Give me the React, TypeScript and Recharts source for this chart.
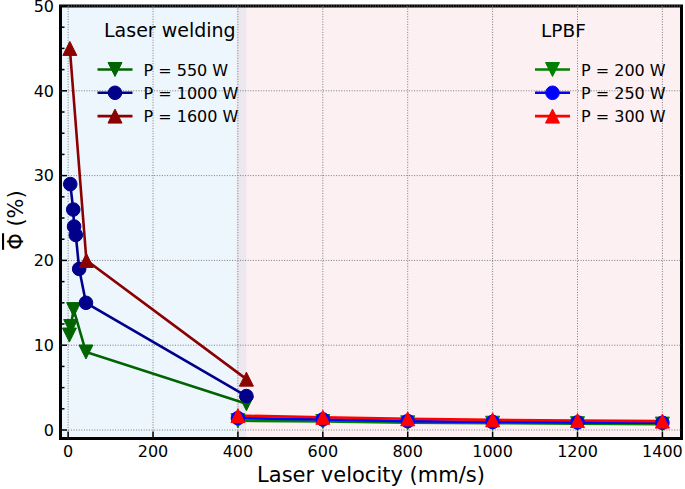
import React from 'react';
import { ComposedChart, Line, XAxis, YAxis, ReferenceLine, ReferenceArea } from 'recharts';

// ---- axes ----
const xDomain: [number, number] = [-18, 1445];
const yDomain: [number, number] = [-1, 50];
const xTicks = [0, 200, 400, 600, 800, 1000, 1200, 1400];
const yMajorTicks = [0, 10, 20, 30, 40, 50];
const yAllTicks = [0, 2.5, 5, 7.5, 10, 12.5, 15, 17.5, 20, 22.5, 25, 27.5, 30, 32.5, 35, 37.5, 40, 42.5, 45, 47.5, 50];

// ---- shaded regions ----
const weldingRegion = [-18, 420];
const lpbfRegion = [397, 1445];

// ---- laser welding series ----
const weld550Velocity = [3, 6, 13, 42, 420];
const weld550Phi = [11.2, 12.2, 14.2, 9.2, 3.1];
const weld1000Velocity = [5, 12, 14, 18, 26, 42, 420];
const weld1000Phi = [29, 26, 24, 23, 19, 15, 4];
const weld1600Velocity = [4, 43, 420];
const weld1600Phi = [45, 20, 6];

// ---- LPBF series ----
const lpbfVelocity = [400, 600, 800, 1000, 1200, 1400];
const lpbf200Phi = [1.1, 1.0, 0.85, 0.8, 0.75, 0.7];
const lpbf250Phi = [1.4, 1.25, 1.05, 0.95, 0.9, 0.85];
const lpbf300Phi = [1.7, 1.5, 1.32, 1.2, 1.12, 1.05];

const FONT = "'DejaVu Sans', sans-serif";

const toRows = (xs: number[], ys: number[]) => xs.map((v, i) => ({ v, phi: ys[i] }));

type Shape = 'up' | 'down' | 'circle';

const Marker = ({ cx, cy, color, shape }: { cx: number; cy: number; color: string; shape: Shape }) => {
  if (cx == null || cy == null || isNaN(cx) || isNaN(cy)) return <g />;
  if (shape === 'circle') return <circle cx={cx} cy={cy} r={6.8} fill={color} stroke={color} strokeWidth={1} />;
  const h = 7;
  if (shape === 'up')
    return <path d={`M${cx},${cy - h} L${cx + h},${cy + h} L${cx - h},${cy + h} Z`} fill={color} stroke={color} strokeWidth={1} />;
  return <path d={`M${cx},${cy + h} L${cx + h},${cy - h} L${cx - h},${cy - h} Z`} fill={color} stroke={color} strokeWidth={1} />;
};

const series = [
  { name: 'P = 550 W', color: '#006400', shape: 'down' as Shape, data: toRows(weld550Velocity, weld550Phi) },
  { name: 'P = 1000 W', color: '#00008b', shape: 'circle' as Shape, data: toRows(weld1000Velocity, weld1000Phi) },
  { name: 'P = 1600 W', color: '#8b0000', shape: 'up' as Shape, data: toRows(weld1600Velocity, weld1600Phi) },
  { name: 'P = 200 W', color: '#008000', shape: 'down' as Shape, data: toRows(lpbfVelocity, lpbf200Phi) },
  { name: 'P = 250 W', color: '#0000ff', shape: 'circle' as Shape, data: toRows(lpbfVelocity, lpbf250Phi) },
  { name: 'P = 300 W', color: '#ff0000', shape: 'up' as Shape, data: toRows(lpbfVelocity, lpbf300Phi) },
];

const XTick = (props: any) => {
  const { x, y, payload } = props;
  const axisY = y - 6;
  return (
    <g>
      <line x1={x} x2={x} y1={axisY} y2={axisY - 7} stroke="#000" strokeWidth={1.5} />
      <text x={x} y={y} dy="0.76em" textAnchor="middle" fontFamily={FONT} fontSize={16} fill="#000">
        {payload.value}
      </text>
    </g>
  );
};

const YTick = (props: any) => {
  const { x, y, payload } = props;
  const axisX = x + 6.5;
  const major = yMajorTicks.includes(payload.value);
  return (
    <g>
      <line x1={axisX} x2={axisX + (major ? 6.5 : 4)} y1={y} y2={y} stroke="#000" strokeWidth={1.5} />
      {major && (
        <text x={x} y={y} dy="0.36em" textAnchor="end" fontFamily={FONT} fontSize={16} fill="#000">
          {payload.value}
        </text>
      )}
    </g>
  );
};

const LegendRow = ({ x, y, color, shape, label }: { x: number; y: number; color: string; shape: Shape; label: string }) => (
  <g>
    <line x1={x} x2={x + 35} y1={y} y2={y} stroke={color} strokeWidth={2.6} />
    <Marker cx={x + 17.5} cy={y} color={color} shape={shape} />
    <text x={x + 46} y={y + 6} fontFamily={FONT} fontSize={16} fill="#000">
      {label}
    </text>
  </g>
);

export default function App() {
  return (
    <div style={{ position: 'absolute', left: 0, top: 0, width: 685, height: 489, background: '#fff' }}>
      <ComposedChart width={685} height={489} margin={{ top: 6, right: 3.5, bottom: 20.5, left: 0 }}>
        <XAxis
          dataKey="v"
          type="number"
          domain={xDomain}
          ticks={xTicks}
          allowDataOverflow
          axisLine={false}
          tickLine={false}
          tickSize={0}
          tickMargin={6}
          height={30}
          tick={(p: any) => <XTick {...p} />}
        />
        <YAxis
          type="number"
          domain={yDomain}
          ticks={yAllTicks}
          allowDataOverflow
          axisLine={false}
          tickLine={false}
          tickSize={0}
          tickMargin={6.5}
          width={60.5}
          interval={0}
          tick={(p: any) => <YTick {...p} />}
        />
        <ReferenceArea x1={weldingRegion[0]} x2={weldingRegion[1]} y1={yDomain[0]} y2={yDomain[1]} fill="#3a9be8" fillOpacity={0.09} stroke="none" ifOverflow="hidden" />
        <ReferenceArea x1={lpbfRegion[0]} x2={lpbfRegion[1]} y1={yDomain[0]} y2={yDomain[1]} fill="#e8707f" fillOpacity={0.1} stroke="none" ifOverflow="hidden" />
        {xTicks.map((t) => (
          <ReferenceLine key={'gx' + t} x={t} stroke="#7a7a7a" strokeWidth={1} strokeDasharray="1 1.6" />
        ))}
        {yMajorTicks.map((t) => (
          <ReferenceLine key={'gy' + t} y={t} stroke="#7a7a7a" strokeWidth={1} strokeDasharray="1 1.6" />
        ))}
        {series.map((s) => (
          <Line
            key={s.name}
            data={s.data}
            dataKey="phi"
            name={s.name}
            stroke={s.color}
            strokeWidth={2.6}
            isAnimationActive={false}
            dot={(p: any) => <Marker key={s.name + p.index} cx={p.cx} cy={p.cy} color={s.color} shape={s.shape} />}
            activeDot={false}
            legendType="none"
          />
        ))}
        <ReferenceArea x1={xDomain[0]} x2={xDomain[1]} y1={yDomain[0]} y2={yDomain[1]} fill="none" stroke="#000" strokeWidth={3} ifOverflow="visible" />
      </ComposedChart>
      <svg width={685} height={489} style={{ position: 'absolute', left: 0, top: 0, pointerEvents: 'none' }}>
        <text x={104} y={37} fontFamily={FONT} fontSize={19} fill="#000">Laser welding</text>
        <text x={541} y={37} fontFamily={FONT} fontSize={18.5} fill="#000">LPBF</text>
        {series.slice(0, 3).map((s, i) => (
          <LegendRow key={s.name} x={97.5} y={69.5 + i * 23.3} color={s.color} shape={s.shape} label={s.name} />
        ))}
        {series.slice(3).map((s, i) => (
          <LegendRow key={s.name} x={535} y={69.5 + i * 23.3} color={s.color} shape={s.shape} label={s.name} />
        ))}
        <text x={371} y={482} textAnchor="middle" fontFamily={FONT} fontSize={21} fill="#000">Laser velocity (mm/s)</text>
        <text x={23} y={220} textAnchor="middle" fontFamily={FONT} fontSize={21} fill="#000" transform="rotate(-90 23 220)">
          <tspan style={{ textDecoration: 'overline' }}>{'\u03A6'}</tspan>
          {' (%)'}
        </text>
      </svg>
    </div>
  );
}
